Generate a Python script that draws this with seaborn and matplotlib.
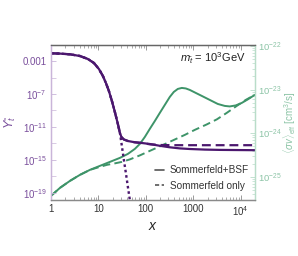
import numpy as np
import pandas as pd
import matplotlib
matplotlib.use("Agg")
import matplotlib.pyplot as plt
import matplotlib.ticker as mticker
from matplotlib.lines import Line2D
import seaborn as sns

# ---- data ----
# Yield Y (left axis), Sommerfeld+BSF  (log10 values)
x_Y_bsf = [1, 1.547, 2.512, 4.08, 6.01, 8.04, 10.24, 12.43, 14.38, 16.63, 19.24, 22.2,
           25.7, 28.4, 30.5, 34.4, 41.8, 58.7, 82.4, 121, 197, 320, 520, 844, 1746,
           3610, 19700]
logY_bsf = [-2.067, -2.103, -2.188, -2.394, -2.758, -3.242, -3.970, -4.818, -5.667,
            -6.636, -7.848, -9.182, -10.636, -11.727, -12.212, -12.515, -12.697,
            -12.855, -12.939, -13.061, -13.279, -13.461, -13.594, -13.667, -13.739,
            -13.776, -13.812]
# Yield Y, Sommerfeld only
x_Y_som = [1, 1.547, 2.512, 4.08, 6.01, 8.04, 10.24, 12.43, 14.38, 16.63, 19.24, 22.2,
           25.7, 28.4, 30.5, 34.4, 41.8, 58.7, 82.4, 121, 197, 408, 19700]
logY_som = [-2.067, -2.103, -2.188, -2.394, -2.758, -3.242, -3.970, -4.818, -5.667,
            -6.636, -7.848, -9.182, -10.636, -11.727, -12.212, -12.515, -12.697,
            -12.855, -12.939, -13.097, -13.182, -13.206, -13.206]
# Equilibrium yield (dotted)
x_Y_eq = [1, 1.547, 2.512, 4.08, 6.01, 8.04, 10.24, 12.43, 14.38, 16.63, 19.24, 22.2,
          25.7, 28.4, 31.2, 34.4, 37.9, 41.8, 46.0, 48.3]
logY_eq = [-2.067, -2.103, -2.188, -2.394, -2.758, -3.242, -3.970, -4.818, -5.667,
           -6.636, -7.848, -9.182, -10.636, -11.727, -13.303, -15.0, -16.576,
           -18.273, -19.848, -20.697]

# <sigma v>_eff (right axis), Sommerfeld+BSF  (log10 cm^3/s)
x_sv_bsf = [1, 1.547, 2.512, 4.08, 6.62, 10.75, 17.46, 28.4, 41.8, 58.7, 74.8, 95.3,
            121, 155, 197, 251, 320, 388, 472, 573, 695, 844, 1130, 1510, 2225, 3280,
            4600, 5870, 7850, 10500, 14030, 19700]
logsv_bsf = [-25.435, -25.252, -25.092, -24.954, -24.840, -24.748, -24.657, -24.565,
             -24.474, -24.359, -24.245, -24.085, -23.902, -23.719, -23.535, -23.352,
             -23.169, -23.055, -22.986, -22.963, -22.975, -23.009, -23.078, -23.146,
             -23.238, -23.330, -23.375, -23.387, -23.364, -23.307, -23.227, -23.124]
# <sigma v>_eff, Sommerfeld only
x_sv_som = [1, 1.547, 2.512, 4.08, 6.62, 8.44, 10.75, 15.1, 22.2, 31.2, 46.0, 74.8, 121,
            197, 370, 662, 1076, 1923, 3126, 5070, 8240, 12740, 19700]
logsv_som = [-25.435, -25.252, -25.092, -24.954, -24.840, -24.805, -24.771, -24.725,
             -24.691, -24.657, -24.600, -24.508, -24.405, -24.302, -24.165, -24.039,
             -23.924, -23.799, -23.684, -23.535, -23.375, -23.238, -23.124]

legend_labels = ["Sommerfeld+BSF", "Sommerfeld only"]

# ---- style ----
sns.set_theme(style="ticks")
plt.rcParams["font.family"] = ["Liberation Sans", "DejaVu Sans"]
plt.rcParams["mathtext.fontset"] = "custom"
plt.rcParams["mathtext.rm"] = "Liberation Sans"
plt.rcParams["mathtext.it"] = "Liberation Sans:italic"
plt.rcParams["mathtext.bf"] = "Liberation Sans:bold"

PURPLE = "#4b176e"
PURPLE_TXT = "#7a4f9c"
PURPLE_SPINE = "#c9b5d9"
GREEN = "#3e9469"
GREEN_TXT = "#8cc4a6"
GREEN_SPINE = "#b9ddc9"
GRAY = "#8a8a8a"

fig = plt.figure(figsize=(2.98, 2.56), dpi=100)
ax = fig.add_axes([51/298, 1-200/256, 204/298, 155/256])
ax2 = ax.twinx()

df_bsf = pd.DataFrame({"x": x_Y_bsf, "Y": 10.0**np.array(logY_bsf)})
df_som = pd.DataFrame({"x": x_Y_som, "Y": 10.0**np.array(logY_som)})
df_eq = pd.DataFrame({"x": x_Y_eq, "Y": 10.0**np.array(logY_eq)})
dsv_bsf = pd.DataFrame({"x": x_sv_bsf, "sv": 10.0**np.array(logsv_bsf)})
dsv_som = pd.DataFrame({"x": x_sv_som, "sv": 10.0**np.array(logsv_som)})

ax.set_xscale("log")
ax.set_yscale("log")
ax2.set_yscale("log")

sns.lineplot(data=dsv_bsf, x="x", y="sv", ax=ax2, color=GREEN, lw=1.4, legend=False)
sns.lineplot(data=dsv_som, x="x", y="sv", ax=ax2, color=GREEN, lw=1.4,
             linestyle=(0, (4, 2.2)), legend=False)

sns.lineplot(data=df_eq, x="x", y="Y", ax=ax, color=PURPLE, lw=1.7,
             linestyle=(0, (1.1, 1.2)), legend=False)
sns.lineplot(data=df_som, x="x", y="Y", ax=ax, color=PURPLE, lw=1.6,
             linestyle=(0, (4, 2.2)), legend=False)
sns.lineplot(data=df_bsf, x="x", y="Y", ax=ax, color=PURPLE, lw=1.6, legend=False)

ax.set_zorder(ax2.get_zorder() + 1)
ax.patch.set_visible(False)

ax.set_xlim(1, 2e4)
ax.set_ylim(10**-19.85, 10**-1.06)
ax2.set_ylim(10**-25.53, 10**-21.98)

# x ticks
ax.xaxis.set_major_locator(mticker.FixedLocator([1, 10, 100, 1000, 10000]))
ax.xaxis.set_major_formatter(mticker.FixedFormatter(["1", "10", "100", "1000", "$10^4$"]))
ax.xaxis.set_minor_locator(mticker.LogLocator(base=10, subs=np.arange(2, 10), numticks=20))
ax.xaxis.set_minor_formatter(mticker.NullFormatter())

# left y ticks
ax.yaxis.set_major_locator(mticker.FixedLocator([1e-19, 1e-15, 1e-11, 1e-7, 1e-3]))
ax.yaxis.set_major_formatter(mticker.FixedFormatter(
    ["$10^{-19}$", "$10^{-15}$", "$10^{-11}$", "$10^{-7}$", "0.001"]))
ax.yaxis.set_minor_locator(mticker.FixedLocator([1e-17, 1e-13, 1e-9, 1e-5]))
ax.yaxis.set_minor_formatter(mticker.NullFormatter())

# right y ticks
ax2.yaxis.set_major_locator(mticker.FixedLocator([1e-25, 1e-24, 1e-23, 1e-22]))
ax2.yaxis.set_major_formatter(mticker.FixedFormatter(
    ["$10^{-25}$", "$10^{-24}$", "$10^{-23}$", "$10^{-22}$"]))
ax2.yaxis.set_minor_locator(mticker.LogLocator(base=10, subs=np.arange(2, 10), numticks=20))
ax2.yaxis.set_minor_formatter(mticker.NullFormatter())

ax.tick_params(axis="x", which="both", direction="in", top=True, bottom=True,
               labelsize=7, colors="#333333", pad=3)
ax.tick_params(axis="x", which="major", length=3.5, width=0.6, color=GRAY)
ax.tick_params(axis="x", which="minor", length=2, width=0.5, color=GRAY)
ax.tick_params(axis="y", which="both", direction="in", left=True, right=False,
               labelsize=7, labelcolor=PURPLE_TXT, color=PURPLE_SPINE, pad=3)
ax.tick_params(axis="y", which="major", length=3.5, width=0.6)
ax.tick_params(axis="y", which="minor", length=3.5, width=0.5)
ax2.tick_params(axis="y", which="both", direction="in", right=True, left=False,
                labelsize=6.8, labelcolor=GREEN_TXT, color=GREEN_SPINE, pad=2.5)
ax2.tick_params(axis="y", which="major", length=3.5, width=0.6)
ax2.tick_params(axis="y", which="minor", length=2, width=0.5)

for a in (ax, ax2):
    a.spines["top"].set_color("#666666")
    a.spines["bottom"].set_color(GRAY)
    a.spines["left"].set_color(PURPLE_SPINE)
    a.spines["right"].set_color(GREEN_SPINE)
    for s in a.spines.values():
        s.set_linewidth(0.9)

ax.set_xlabel("$x$", fontsize=10, color="#222222", labelpad=1)
ax.set_ylabel(r"$Y_{\tilde{t}}$", fontsize=9, color=PURPLE_TXT, labelpad=3)
ax2.set_ylabel(r"$\langle\sigma v\rangle_{\mathrm{eff}}$ [cm$^3$/s]", fontsize=7,
               color=GREEN_TXT, labelpad=0)

ax.text(0.955, 0.915, r"$m_{\tilde{t}}$ = 10$^3$GeV", transform=ax.transAxes,
        ha="right", va="center", fontsize=8, color="#222222")

handles = [Line2D([], [], color="#555555", lw=1.2),
           Line2D([], [], color="#555555", lw=1.2, linestyle=(0, (2.5, 1.5)))]
ax.legend(handles, legend_labels, loc="lower right", bbox_to_anchor=(1.0, 0.02),
          frameon=False, fontsize=7.2, handlelength=0.9, handletextpad=0.6,
          labelspacing=0.55, borderaxespad=0.2, labelcolor="#333333")

fig.savefig("out.png", dpi=100)
